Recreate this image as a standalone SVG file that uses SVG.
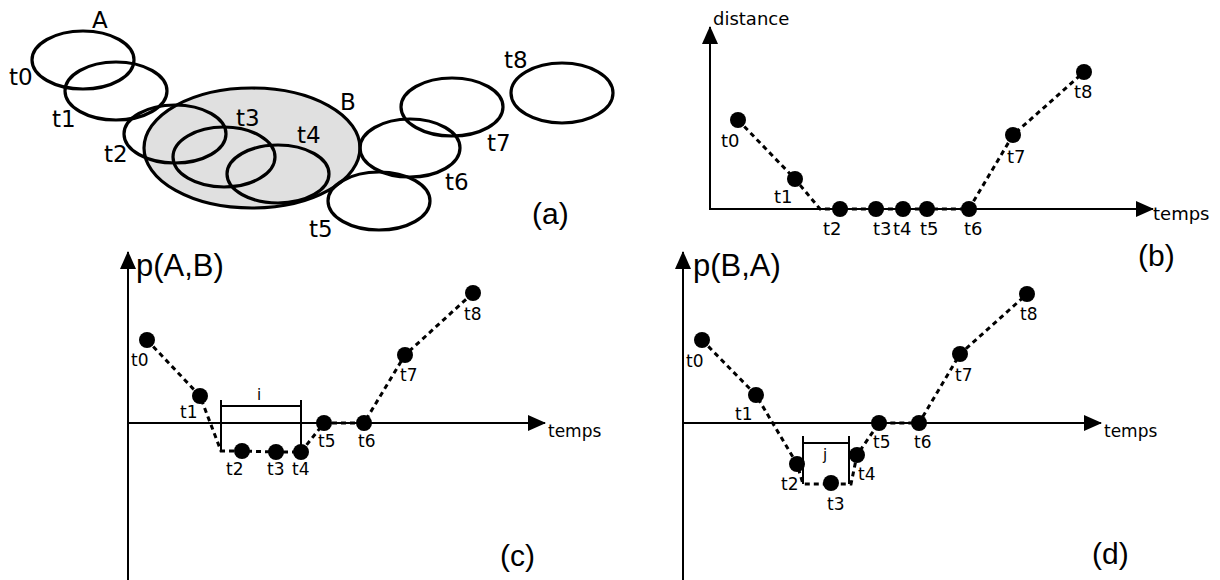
<svg xmlns="http://www.w3.org/2000/svg" width="1220" height="580" viewBox="0 0 1220 580">
<defs>
<marker id="arr" viewBox="0 0 18 16" refX="17" refY="8" markerWidth="18" markerHeight="16" markerUnits="userSpaceOnUse" orient="auto">
<path d="M0,0 L18,8 L0,16 z" fill="#000"/>
</marker>
<style>
.ax{stroke:#000;stroke-width:2;fill:none}
.dl{stroke:#000;stroke-width:3;stroke-dasharray:5 4;fill:none}
.br{stroke:#000;stroke-width:2;fill:none}
.pt{fill:#000}
.el{fill:none;stroke:#000;stroke-width:3.2}
.lb{font-family:'DejaVu Sans',sans-serif;fill:#000}
.a{font-size:23px}
.b{font-size:18px}
.c{font-size:17px}
.big{font-family:'Liberation Sans',Arial,sans-serif;fill:#000}
</style>
</defs>
<rect width="1220" height="580" fill="#fff"/>

<!-- Panel (a) -->
<g id="panel-a">
<g id="B"><ellipse cx="252" cy="148" rx="108" ry="60" fill="#e0e0e0" stroke="#000" stroke-width="3.2"/><text class="lb a" x="340" y="110">B</text></g>
<g id="a-t0"><ellipse class="el" cx="83" cy="60" rx="51" ry="29"/><text class="lb a" x="9" y="85">t0</text><text class="lb a" x="92" y="28">A</text></g>
<g id="a-t1"><ellipse class="el" cx="116" cy="91" rx="51" ry="29"/><text class="lb a" x="52" y="127">t1</text></g>
<g id="a-t2"><ellipse class="el" cx="175" cy="134" rx="51" ry="29"/><text class="lb a" x="104" y="162">t2</text></g>
<g id="a-t3"><ellipse class="el" cx="224" cy="157" rx="51" ry="30"/><text class="lb a" x="236" y="126">t3</text></g>
<g id="a-t4"><ellipse class="el" cx="278" cy="174" rx="51" ry="29"/><text class="lb a" x="297" y="143">t4</text></g>
<g id="a-t5"><ellipse class="el" cx="379" cy="201" rx="51" ry="29"/><text class="lb a" x="309" y="237">t5</text></g>
<g id="a-t6"><ellipse class="el" cx="410" cy="148" rx="50" ry="29"/><text class="lb a" x="445" y="190">t6</text></g>
<g id="a-t7"><ellipse class="el" cx="452" cy="107" rx="51" ry="29"/><text class="lb a" x="487" y="151">t7</text></g>
<g id="a-t8"><ellipse class="el" cx="562" cy="93" rx="51" ry="30"/><text class="lb a" x="504" y="68">t8</text></g>
<text class="big" font-size="30" x="532" y="224">(a)</text>
</g>

<!-- Panel (b) -->
<g id="panel-b">
<g id="b-connectors">
<line class="ax" x1="710" y1="209" x2="710" y2="27" marker-end="url(#arr)"/>
<line class="ax" x1="709" y1="209" x2="1153" y2="209" marker-end="url(#arr)"/>
<polyline class="dl" points="738,120 795,179 820,209 969,209 1013,135 1084,72"/>
</g>
<text class="lb b" x="713" y="25">distance</text>
<text class="lb b" x="1153" y="220">temps</text>
<g id="b-t0"><circle class="pt" cx="738" cy="120" r="8"/><text class="lb b" x="721" y="147">t0</text></g>
<g id="b-t1"><circle class="pt" cx="795" cy="179" r="8"/><text class="lb b" x="774" y="203">t1</text></g>
<g id="b-t2"><circle class="pt" cx="840" cy="209" r="8"/><text class="lb b" x="823" y="235">t2</text></g>
<g id="b-t3"><circle class="pt" cx="876" cy="209" r="8"/><text class="lb b" x="873" y="235">t3</text></g>
<g id="b-t4"><circle class="pt" cx="903" cy="209" r="8"/><text class="lb b" x="893" y="235">t4</text></g>
<g id="b-t5"><circle class="pt" cx="927" cy="209" r="8"/><text class="lb b" x="920" y="235">t5</text></g>
<g id="b-t6"><circle class="pt" cx="969" cy="209" r="8"/><text class="lb b" x="964" y="235">t6</text></g>
<g id="b-t7"><circle class="pt" cx="1013" cy="135" r="8"/><text class="lb b" x="1007" y="163">t7</text></g>
<g id="b-t8"><circle class="pt" cx="1084" cy="72" r="8"/><text class="lb b" x="1074" y="98">t8</text></g>
<text class="big" font-size="30" x="1138" y="266">(b)</text>
</g>

<!-- Panel (c) -->
<g id="panel-c">
<g id="c-connectors">
<line class="ax" x1="128" y1="580" x2="128" y2="252" marker-end="url(#arr)"/>
<line class="ax" x1="127" y1="423" x2="545" y2="423" marker-end="url(#arr)"/>
<polyline class="dl" points="147,340 200,396 221,451 242,451 276,452 301,452 324,423 364,423 405,355 473,293"/>
<path class="br" d="M221,400 V451 M301,400 V452 M221,406 H301"/>
</g>
<text class="big" font-size="31" x="136" y="276">p(A,B)</text>
<text class="lb c" x="548" y="437">temps</text>
<text class="lb" font-size="15" x="257" y="400">i</text>
<g id="c-t0"><circle class="pt" cx="147" cy="340" r="8"/><text class="lb c" x="131" y="366">t0</text></g>
<g id="c-t1"><circle class="pt" cx="200" cy="396" r="8"/><text class="lb c" x="180" y="418">t1</text></g>
<g id="c-t2"><circle class="pt" cx="242" cy="451" r="8"/><text class="lb c" x="226" y="475">t2</text></g>
<g id="c-t3"><circle class="pt" cx="276" cy="452" r="8"/><text class="lb c" x="267" y="475">t3</text></g>
<g id="c-t4"><circle class="pt" cx="301" cy="452" r="8"/><text class="lb c" x="292" y="475">t4</text></g>
<g id="c-t5"><circle class="pt" cx="324" cy="423" r="8"/><text class="lb c" x="318" y="447">t5</text></g>
<g id="c-t6"><circle class="pt" cx="364" cy="423" r="8"/><text class="lb c" x="358" y="447">t6</text></g>
<g id="c-t7"><circle class="pt" cx="405" cy="355" r="8"/><text class="lb c" x="400" y="381">t7</text></g>
<g id="c-t8"><circle class="pt" cx="473" cy="293" r="8"/><text class="lb c" x="464" y="320">t8</text></g>
<text class="big" font-size="30" x="500" y="566">(c)</text>
</g>

<!-- Panel (d) -->
<g id="panel-d">
<g id="d-connectors">
<line class="ax" x1="683" y1="580" x2="683" y2="252" marker-end="url(#arr)"/>
<line class="ax" x1="682" y1="423" x2="1101" y2="423" marker-end="url(#arr)"/>
<polyline class="dl" points="702,340 756,395 797,464 803,484 831,484 851,484 857,455 879,423 919,423 960,354 1027,294"/>
<path class="br" d="M803,436 V484 M849,436 V484 M803,443 H849"/>
</g>
<text class="big" font-size="31" x="693" y="276">p(B,A)</text>
<text class="lb c" x="1104" y="437">temps</text>
<text class="lb" font-size="15" x="823" y="460">j</text>
<g id="d-t0"><circle class="pt" cx="702" cy="340" r="8"/><text class="lb c" x="686" y="367">t0</text></g>
<g id="d-t1"><circle class="pt" cx="756" cy="395" r="8"/><text class="lb c" x="735" y="420">t1</text></g>
<g id="d-t2"><circle class="pt" cx="797" cy="464" r="8"/><text class="lb c" x="781" y="490">t2</text></g>
<g id="d-t3"><circle class="pt" cx="831" cy="483" r="8"/><text class="lb c" x="827" y="510">t3</text></g>
<g id="d-t4"><circle class="pt" cx="857" cy="455" r="8"/><text class="lb c" x="858" y="480">t4</text></g>
<g id="d-t5"><circle class="pt" cx="879" cy="423" r="8"/><text class="lb c" x="873" y="448">t5</text></g>
<g id="d-t6"><circle class="pt" cx="919" cy="423" r="8"/><text class="lb c" x="914" y="448">t6</text></g>
<g id="d-t7"><circle class="pt" cx="960" cy="354" r="8"/><text class="lb c" x="955" y="381">t7</text></g>
<g id="d-t8"><circle class="pt" cx="1027" cy="294" r="8"/><text class="lb c" x="1020" y="320">t8</text></g>
<text class="big" font-size="30" x="1092" y="564">(d)</text>
</g>
</svg>
